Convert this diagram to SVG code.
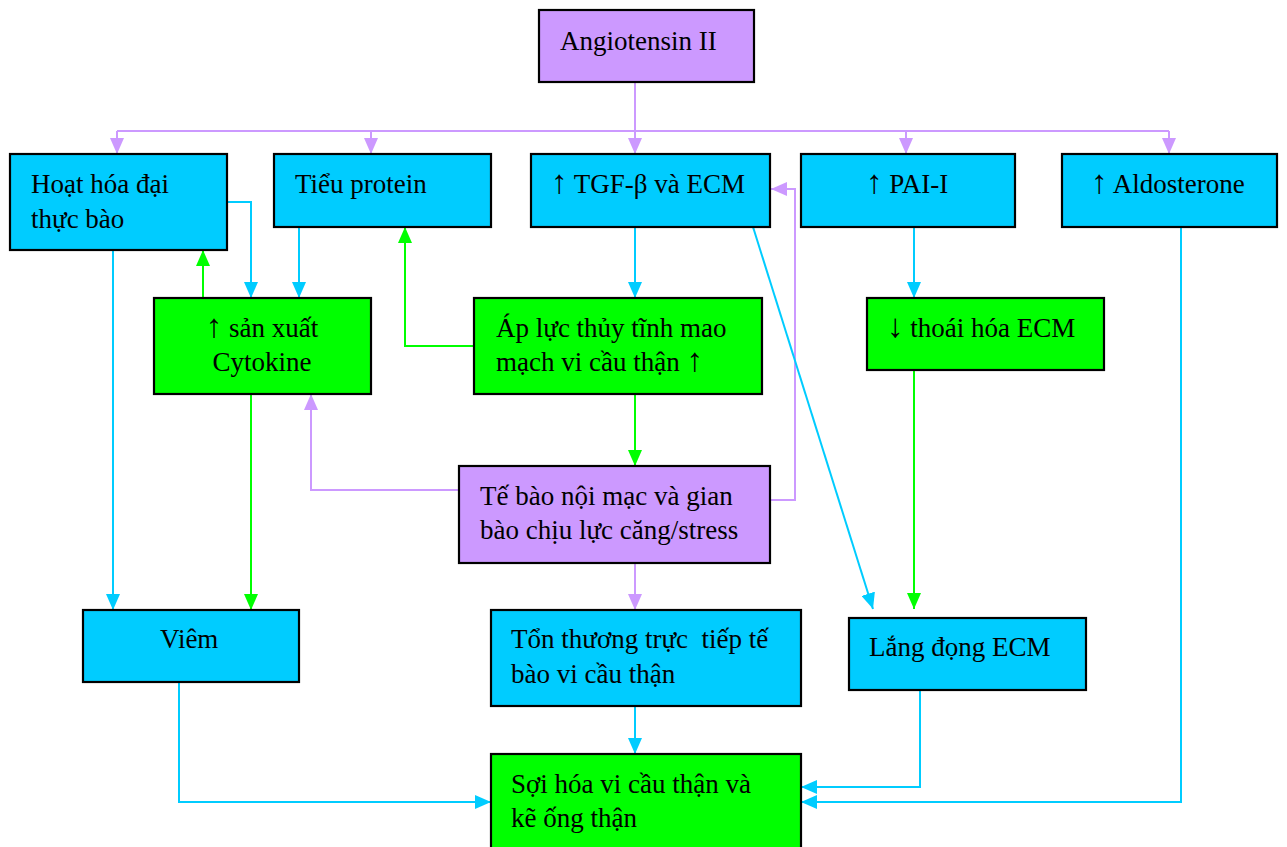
<svg xmlns="http://www.w3.org/2000/svg" width="1287" height="847" viewBox="0 0 1287 847">
<style>
.box{stroke:#000;stroke-width:2.2}
.pu{fill:#CC99FF}
.bl{fill:#00CCFF}
.gr{fill:#00FF00}
text{font-family:"Liberation Serif","Times New Roman",serif;font-size:27px;fill:#000}
.ar{font-size:33px}
.c{fill:none;stroke-width:2}
.cp{stroke:#CC99FF}
.cb{stroke:#00CCFF}
.cg{stroke:#00FF00}
</style>
<defs>
<marker id="ap" markerUnits="userSpaceOnUse" markerWidth="16" markerHeight="14" refX="16" refY="7" orient="auto"><path d="M0,0 L16,7 L0,14 z" fill="#CC99FF"/></marker>
<marker id="ab" markerUnits="userSpaceOnUse" markerWidth="16" markerHeight="14" refX="16" refY="7" orient="auto"><path d="M0,0 L16,7 L0,14 z" fill="#00CCFF"/></marker>
<marker id="ag" markerUnits="userSpaceOnUse" markerWidth="16" markerHeight="14" refX="16" refY="7" orient="auto"><path d="M0,0 L16,7 L0,14 z" fill="#00FF00"/></marker>
</defs>
<rect width="1287" height="847" fill="#fff"/>
<g id="connectors">
<path class="c cp" d="M117,131 H1169"/>
<path class="c cp" d="M635,82 V154" marker-end="url(#ap)"/>
<path class="c cp" d="M117,131 V154" marker-end="url(#ap)"/>
<path class="c cp" d="M371,131 V154" marker-end="url(#ap)"/>
<path class="c cp" d="M906,131 V154" marker-end="url(#ap)"/>
<path class="c cp" d="M1169,131 V154" marker-end="url(#ap)"/>
<path class="c cp" d="M459,490 H311 V394" marker-end="url(#ap)"/>
<path class="c cp" d="M770,500 H795 V189 H771" marker-end="url(#ap)"/>
<path class="c cp" d="M635,563 V610" marker-end="url(#ap)"/>
<path class="c cb" d="M227,202 H251 V298" marker-end="url(#ab)"/>
<path class="c cb" d="M299,227 V298" marker-end="url(#ab)"/>
<path class="c cb" d="M635,227 V298" marker-end="url(#ab)"/>
<path class="c cb" d="M914,227 V298" marker-end="url(#ab)"/>
<path class="c cb" d="M113,250 V610" marker-end="url(#ab)"/>
<path class="c cb" d="M753,227 L873,609" marker-end="url(#ab)"/>
<path class="c cb" d="M635,706 V754" marker-end="url(#ab)"/>
<path class="c cb" d="M179,682 V802 H491" marker-end="url(#ab)"/>
<path class="c cb" d="M920,690 V787 H801" marker-end="url(#ab)"/>
<path class="c cb" d="M1181,227 V802 H801" marker-end="url(#ab)"/>
<path class="c cg" d="M203,298 V250" marker-end="url(#ag)"/>
<path class="c cg" d="M474,346 H405 V227" marker-end="url(#ag)"/>
<path class="c cg" d="M635,394 V466" marker-end="url(#ag)"/>
<path class="c cg" d="M251,394 V610" marker-end="url(#ag)"/>
<path class="c cg" d="M914,370 V609" marker-end="url(#ag)"/>
</g>
<g id="angiotensin"><rect class="box pu" x="539" y="10" width="215" height="72"/><text x="560" y="50">Angiotensin II</text></g>
<g id="hoat-hoa"><rect class="box bl" x="10" y="154" width="217" height="96"/><text x="31" y="193">Hoạt hóa đại</text><text x="31" y="228">thực bào</text></g>
<g id="tieu-protein"><rect class="box bl" x="274" y="154" width="217" height="73"/><text x="295" y="193">Tiểu protein</text></g>
<g id="tgf"><rect class="box bl" x="531" y="154" width="239" height="73"/><text x="551" y="193"><tspan class="ar">↑</tspan> TGF-β và ECM</text></g>
<g id="pai"><rect class="box bl" x="801" y="154" width="214" height="73"/><text x="866" y="193"><tspan class="ar">↑</tspan> PAI-I</text></g>
<g id="aldosterone"><rect class="box bl" x="1062" y="154" width="215" height="73"/><text x="1091" y="193"><tspan class="ar">↑</tspan> Aldosterone</text></g>
<g id="cytokine"><rect class="box gr" x="154" y="298" width="217" height="96"/><text x="262" y="337" text-anchor="middle"><tspan class="ar">↑</tspan> sản xuất</text><text x="262" y="371" text-anchor="middle">Cytokine</text></g>
<g id="ap-luc"><rect class="box gr" x="474" y="298" width="288" height="96"/><text x="496" y="337">Áp lực thủy tĩnh mao</text><text x="496" y="371">mạch vi cầu thận <tspan class="ar">↑</tspan></text></g>
<g id="thoai-hoa"><rect class="box gr" x="867" y="298" width="237" height="72"/><text x="887" y="337"><tspan class="ar">↓</tspan> thoái hóa ECM</text></g>
<g id="te-bao"><rect class="box pu" x="459" y="466" width="311" height="97"/><text x="480" y="505">Tế bào nội mạc và gian</text><text x="480" y="539">bào chịu lực căng/stress</text></g>
<g id="viem"><rect class="box bl" x="83" y="610" width="216" height="72"/><text x="160" y="648">Viêm</text></g>
<g id="ton-thuong"><rect class="box bl" x="491" y="610" width="310" height="96"/><text x="511" y="648" xml:space="preserve">Tổn thương trực  tiếp tế</text><text x="511" y="683">bào vi cầu thận</text></g>
<g id="lang-dong"><rect class="box bl" x="849" y="618" width="237" height="72"/><text x="869" y="656">Lắng đọng ECM</text></g>
<g id="soi-hoa"><rect class="box gr" x="491" y="754" width="310" height="100"/><text x="511" y="793">Sợi hóa vi cầu thận và</text><text x="511" y="827">kẽ ống thận</text></g>
</svg>
